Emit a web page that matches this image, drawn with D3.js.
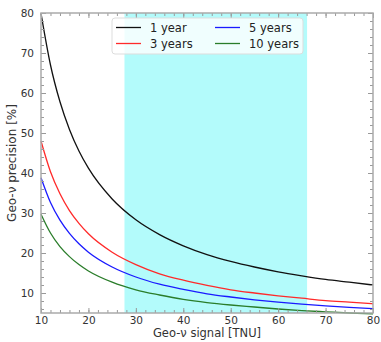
<!DOCTYPE html>
<html>
<head>
<meta charset="utf-8">
<script src="https://cdn.jsdelivr.net/npm/d3@7"></script>
<style>
  body { margin: 0; background: #fff; }
  text { font-family: "DejaVu Sans", sans-serif; }
</style>
</head>
<body>
<div id="chart"></div>
<script>
// signal values (TNU) where the curves were read
const signal = [10, 12, 14, 16, 18, 20, 25, 30, 35, 40, 45, 50, 55, 60, 65, 70, 75, 80];
const oneYear = [79.9, 67.0, 57.8, 50.9, 45.5, 41.2, 33.5, 28.3, 24.6, 21.8, 19.6, 17.9, 16.5, 15.3, 14.3, 13.4, 12.7, 12.0];
const threeYears = [48.0, 40.3, 34.8, 30.6, 27.4, 24.8, 20.2, 17.1, 14.8, 13.2, 11.9, 10.8, 10.0, 9.3, 8.7, 8.1, 7.7, 7.3];
const fiveYears = [38.8, 32.6, 28.2, 24.9, 22.3, 20.2, 16.5, 14.0, 12.2, 10.9, 9.8, 9.0, 8.3, 7.7, 7.2, 6.8, 6.4, 6.1];
const tenYears = [29.7, 25.0, 21.6, 19.1, 17.1, 15.5, 12.7, 10.8, 9.5, 8.4, 7.6, 7.0, 6.5, 6.0, 5.6, 5.3, 5.0, 4.8];
const seriesNames = ["1 year", "3 years", "5 years", "10 years"];
const band = [27.6, 66.1];
const xTicks = [10, 20, 30, 40, 50, 60, 70, 80];
const yTicks = [10, 20, 30, 40, 50, 60, 70, 80];

const width = 381, height = 342;
const margin = { top: 13, right: 8, bottom: 29, left: 41 };
const colors = ["#111111", "#ff2a2a", "#1a1aff", "#2a7d2a"];

const svg = d3.select("#chart").append("svg")
    .attr("width", width)
    .attr("height", height);

const x = d3.scaleLinear().domain([10, 80]).range([margin.left, width - margin.right]);
const y = d3.scaleLinear().domain([5, 80]).range([height - margin.bottom, margin.top]);

// shaded signal range
svg.append("rect")
    .attr("x", x(band[0]))
    .attr("y", y(80))
    .attr("width", x(band[1]) - x(band[0]))
    .attr("height", y(5) - y(80))
    .attr("fill", "#b3fbfb");

// curves
const series = [oneYear, threeYears, fiveYears, tenYears];
const line = d3.line()
    .x((d, i) => x(signal[i]))
    .y(d => y(d))
    .curve(d3.curveMonotoneX);

series.forEach((s, k) => {
    svg.append("path")
        .datum(s)
        .attr("fill", "none")
        .attr("stroke", colors[k])
        .attr("stroke-width", 1.3)
        .attr("d", line);
});

// ticks on all four sides, pointing inward
const minorX = d3.range(10, 81, 2);
const minorY = d3.range(6, 81, 2);
const tickColor = "#999";

function addAxis(axis, tx, ty) {
    svg.append("g")
        .attr("transform", `translate(${tx},${ty})`)
        .call(axis)
        .call(g => g.select(".domain").remove())
        .call(g => g.selectAll("line").attr("stroke", tickColor));
}

const x0 = margin.left, x1 = width - margin.right;
const y0 = height - margin.bottom, y1 = margin.top;

addAxis(d3.axisBottom(x).tickValues(minorX).tickSize(-3).tickFormat(""), 0, y0);
addAxis(d3.axisTop(x).tickValues(minorX).tickSize(-3).tickFormat(""), 0, y1);
addAxis(d3.axisLeft(y).tickValues(minorY).tickSize(-3).tickFormat(""), x0, 0);
addAxis(d3.axisRight(y).tickValues(minorY).tickSize(-3).tickFormat(""), x1, 0);
addAxis(d3.axisTop(x).tickValues(xTicks).tickSize(-5).tickFormat(""), 0, y1);
addAxis(d3.axisRight(y).tickValues(yTicks).tickSize(-5).tickFormat(""), x1, 0);

svg.append("g")
    .attr("transform", `translate(0,${y0})`)
    .call(d3.axisBottom(x).tickValues(xTicks).tickSize(-5).tickPadding(4))
    .call(g => g.select(".domain").remove())
    .call(g => g.selectAll("line").attr("stroke", tickColor))
    .call(g => g.selectAll("text").attr("fill", "#333").attr("font-size", 10.5)
        .attr("font-family", "DejaVu Sans"));

svg.append("g")
    .attr("transform", `translate(${x0},0)`)
    .call(d3.axisLeft(y).tickValues(yTicks).tickSize(-5).tickPadding(7))
    .call(g => g.select(".domain").remove())
    .call(g => g.selectAll("line").attr("stroke", tickColor))
    .call(g => g.selectAll("text").attr("fill", "#333").attr("font-size", 10.5)
        .attr("font-family", "DejaVu Sans"));

// frame
svg.append("rect")
    .attr("x", x0)
    .attr("y", y1)
    .attr("width", x1 - x0)
    .attr("height", y0 - y1)
    .attr("fill", "none")
    .attr("stroke", "#aaa")
    .attr("stroke-width", 1.5);

// axis titles
svg.append("text")
    .attr("x", 207)
    .attr("y", 337)
    .attr("text-anchor", "middle")
    .attr("font-size", 11.5)
    .attr("fill", "#333")
    .text("Geo-\u03bd signal [TNU]");

svg.append("text")
    .attr("transform", `translate(16,${(y0 + y1) / 2}) rotate(-90)`)
    .attr("text-anchor", "middle")
    .attr("font-size", 12)
    .attr("fill", "#333")
    .text("Geo-\u03bd precision [%]");

// legend
const legend = svg.append("g");
legend.append("rect")
    .attr("x", 112)
    .attr("y", 18)
    .attr("width", 191)
    .attr("height", 36)
    .attr("rx", 3)
    .attr("fill", "rgba(255,255,255,0.8)")
    .attr("stroke", "#ddd");

seriesNames.forEach((name, k) => {
    const col = Math.floor(k / 2), row = k % 2;
    const lx = 116 + col * 99, ly = 27.5 + row * 16;
    legend.append("line")
        .attr("x1", lx).attr("x2", lx + 25)
        .attr("y1", ly).attr("y2", ly)
        .attr("stroke", colors[k])
        .attr("stroke-width", 1.3);
    legend.append("text")
        .attr("x", lx + 34)
        .attr("y", ly + 4)
        .attr("font-size", 11.5)
        .attr("fill", "#222")
        .text(name);
});
</script>
</body>
</html>
